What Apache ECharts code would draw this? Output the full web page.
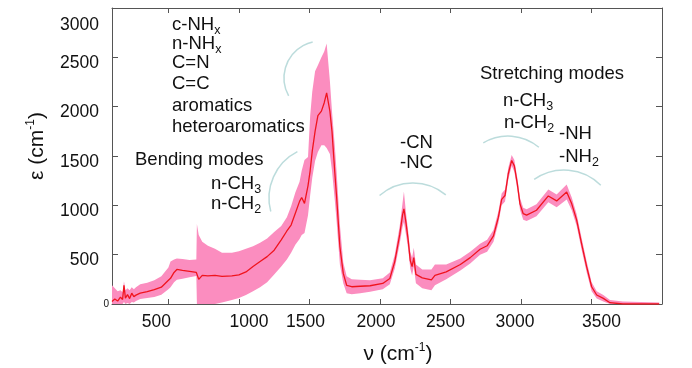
<!DOCTYPE html>
<html><head><meta charset="utf-8">
<script src="https://cdn.jsdelivr.net/npm/echarts@6/dist/echarts.min.js"></script>
<style>html,body{margin:0;padding:0;background:#fff}#c{width:692px;height:368px}</style>
</head><body><div id="c"></div>
<script>
// wavenumber (cm^-1)
const wavenumber = [
  100,120,140,160,175,185,195,210,225,240,
  255,270,300,350,400,450,500,515,540,560,
  600,650,698,702,715,740,780,830,880,950,
  1000,1050,1100,1150,1200,1250,1300,1340,1370,1400,
  1430,1445,1465,1490,1505,1520,1540,1560,1585,1605,
  1622,1645,1660,1680,1693,1716,1740,1764,1800,1860,
  1930,2020,2070,2105,2140,2160,2170,2185,2200,2215,
  2228,2240,2255,2300,2365,2390,2470,2570,2640,2710,
  2760,2805,2840,2863,2887,2910,2934,2953,2974,2993,
  3016,3040,3110,3194,3253,3324,3360,3395,3430,3466,
  3501,3537,3584,3631,3723,3850,3980
];
// mean epsilon (red line)
const meanEps = [
  25,50,30,70,45,190,60,95,55,110,
  75,90,110,125,145,170,240,260,320,350,
  340,330,320,300,250,290,285,290,280,285,
  295,325,380,430,480,545,650,740,800,920,
  1040,1080,1020,1200,1350,1550,1750,1910,1955,2040,
  2140,1955,1750,1330,1080,580,310,190,175,180,
  185,208,259,430,700,900,965,820,650,440,
  380,470,300,265,245,290,326,400,470,555,
  590,690,880,1060,1100,1320,1455,1400,1220,1015,
  915,900,950,1095,1045,1135,1015,850,610,376,
  175,91,57,13,0,0,0
];
// upper edge of the uncertainty band (pink)
const upperEps = [
  190,160,130,140,120,230,140,160,140,170,
  150,170,200,215,240,280,370,430,450,460,
  455,445,450,810,700,630,590,560,520,520,
  535,560,585,620,665,730,790,880,990,1130,
  1240,1350,1460,1490,1900,2150,2360,2420,2500,2560,
  2640,2260,1950,1600,1330,800,420,280,250,245,
  240,260,320,500,790,1020,1140,920,740,530,
  470,570,400,350,350,400,400,460,530,610,
  650,750,940,1120,1160,1380,1510,1460,1280,1075,
  975,960,1010,1160,1110,1210,1080,910,670,430,
  220,130,90,40,25,20,15
];
// lower edge of the uncertainty band (pink)
const lowerEps = [
  0,0,0,0,0,20,0,10,0,20,
  15,30,50,60,70,95,150,170,220,245,
  255,270,285,0,0,0,0,0,15,40,
  60,90,130,170,220,300,380,450,520,600,
  660,700,720,900,1100,1280,1450,1540,1610,1610,
  1580,1520,1350,1050,830,400,210,110,100,110,
  125,150,200,360,610,780,830,700,560,360,
  290,380,210,160,140,190,250,340,410,500,
  530,630,820,1000,1040,1260,1400,1340,1160,955,
  855,840,890,1030,980,1060,950,790,550,320,
  130,55,25,0,0,0,0
];
const xTickLabels = [500,1000,1500,2000,2500,3000,3500];
const yTickLabels = [0,500,1000,1500,2000,2500,3000];

// label placement tweaks (style only)
const xLabelShift = {500:-12,1000:10,1500:-4,2000:-4,2500:-5,3000:-6,3500:10};
const FONT = "'Liberation Sans', Arial, sans-serif";
const TXT = '#111';
const AXC = '#555';
const PINK = '#fb8dbf';
const RED = '#f0141e';
const ARC = '#bcdcdc';

const meanLine = wavenumber.map((v,i)=>[v, meanEps[i]]);

const xRich = {};
xTickLabels.forEach(v=>{
  const s = xLabelShift[v]||0;
  xRich['x'+v] = {fontSize:17.5, fontFamily:FONT, color:TXT,
    padding: s>0 ? [0,0,0,2*s] : [0,-2*s,0,0]};
});

const chart = echarts.init(document.getElementById('c'), null, {renderer:'canvas'});

function sub(main, s){ return '{n|'+main+'}{s|'+s+'}'; }
const annRich = {
  n:{fontSize:18.5, fontFamily:FONT, color:TXT},
  s:{fontSize:12.5, fontFamily:FONT, color:TXT, padding:[11,0,0,0]},
  p:{fontSize:12, fontFamily:FONT, color:TXT, padding:[0,0,12,0]},
  t:{fontSize:21, fontFamily:FONT, color:TXT}
};
function ann(x,y,text){
  return {type:'text', x:x, y:y, silent:true,
    style:{text:text, rich:annRich, align:'left', verticalAlign:'middle', font:'18px '+FONT, fill:TXT}};
}
function arc(cx,cy,r,a0,a1){
  return {type:'arc', silent:true,
    shape:{cx:cx, cy:cy, r:r, startAngle:a0*Math.PI/180, endAngle:a1*Math.PI/180, clockwise:true},
    style:{stroke:ARC, fill:null, lineWidth:1.5}};
}

const xAxisBase = {
  type:'value', min:100, max:4000, splitNumber:8, minInterval:500, maxInterval:500,
  axisLine:{show:true, onZero:false, lineStyle:{color:AXC, width:1}},
  axisTick:{show:true, inside:true, length:5, lineStyle:{color:AXC}},
  splitLine:{show:false}
};
const yAxisBase = {
  type:'value', min:0, max:3000, interval:500,
  axisLine:{show:true, onZero:false, lineStyle:{color:AXC, width:1}},
  axisTick:{show:true, inside:true, length:6, lineStyle:{color:AXC}},
  splitLine:{show:false}
};

function renderBand(params, api){
  if (params.dataIndex !== 0) return;
  const pts = [];
  for (let i=0;i<wavenumber.length;i++) pts.push(api.coord([wavenumber[i], upperEps[i]]));
  for (let i=wavenumber.length-1;i>=0;i--) pts.push(api.coord([wavenumber[i], lowerEps[i]]));
  return {type:'polygon', shape:{points:pts}, style:{fill:PINK, stroke:null}};
}

chart.setOption({
  animation:false,
  backgroundColor:'#fff',
  grid:{left:112, right:30, top:8, bottom:64, containLabel:false},
  xAxis:[
    Object.assign({}, xAxisBase, {position:'bottom',
      axisLabel:{show:true, margin:9, showMinLabel:false, showMaxLabel:false, rich:xRich,
        formatter:function(v){ return xTickLabels.indexOf(v)>=0 ? '{x'+v+'|'+v+'}' : ''; }}}),
    Object.assign({}, xAxisBase, {position:'top', axisLabel:{show:false}})
  ],
  yAxis:[
    Object.assign({}, yAxisBase, {position:'left',
      axisLabel:{show:true, margin:3, rich:{
          z:{fontSize:10, fontFamily:FONT, color:TXT},
          n:{fontSize:17.5, fontFamily:FONT, color:TXT, padding:[12,10,0,0]},
          t:{fontSize:17.5, fontFamily:FONT, color:TXT, padding:[34,10,0,0]}
        },
        formatter:function(v){
          if (yTickLabels.indexOf(v)<0) return '';
          if (v===0) return '{z|0}';
          if (v===3000) return '{t|3000}';
          return '{n|'+v+'}';
        }}}),
    Object.assign({}, yAxisBase, {position:'right', axisLabel:{show:false}})
  ],
  series:[
    {type:'custom', name:'band', data:[[wavenumber[0], upperEps[0]]], renderItem:renderBand,
     silent:true, clip:true, z:2},
    {type:'line', name:'mean', data:meanLine, symbol:'none', silent:true,
     lineStyle:{color:RED, width:1.3}, z:3}
  ],
  graphic:[
    ann(172,25, sub('c-NH','x')),
    ann(172,44, sub('n-NH','x')),
    ann(172,63, '{n|C=N}'),
    ann(172,84, '{n|C=C}'),
    ann(172,106,'{n|aromatics}'),
    ann(172,127,'{n|heteroaromatics}'),
    ann(135,160,'{n|Bending modes}'),
    ann(211,184, sub('n-CH','3')),
    ann(211,204, sub('n-CH','2')),
    ann(400,143,'{n|-CN}'),
    ann(400,163,'{n|-NC}'),
    ann(480,74,'{n|Stretching modes}'),
    ann(503,101, sub('n-CH','3')),
    ann(504,123, sub('n-CH','2')),
    ann(559,134,'{n|-NH}'),
    ann(559,157, sub('-NH','2')),
    arc(321,78,37,151,257),
    arc(321,198,52,165,243),
    arc(413,234,51,229,310),
    arc(508,184,48,239,310),
    arc(564,222,52,235,315),
    {type:'text', x:37, y:146, rotation:Math.PI/2, silent:true,
     style:{text:'{t|ε (cm}{p|-1}{t|)}', rich:annRich, align:'center', verticalAlign:'middle', fill:TXT}},
    {type:'text', x:398, y:354, silent:true,
     style:{text:'{t|ν (cm}{p|-1}{t|)}', rich:annRich, align:'center', verticalAlign:'middle', fill:TXT}}
  ]
});
</script>
</body></html>
